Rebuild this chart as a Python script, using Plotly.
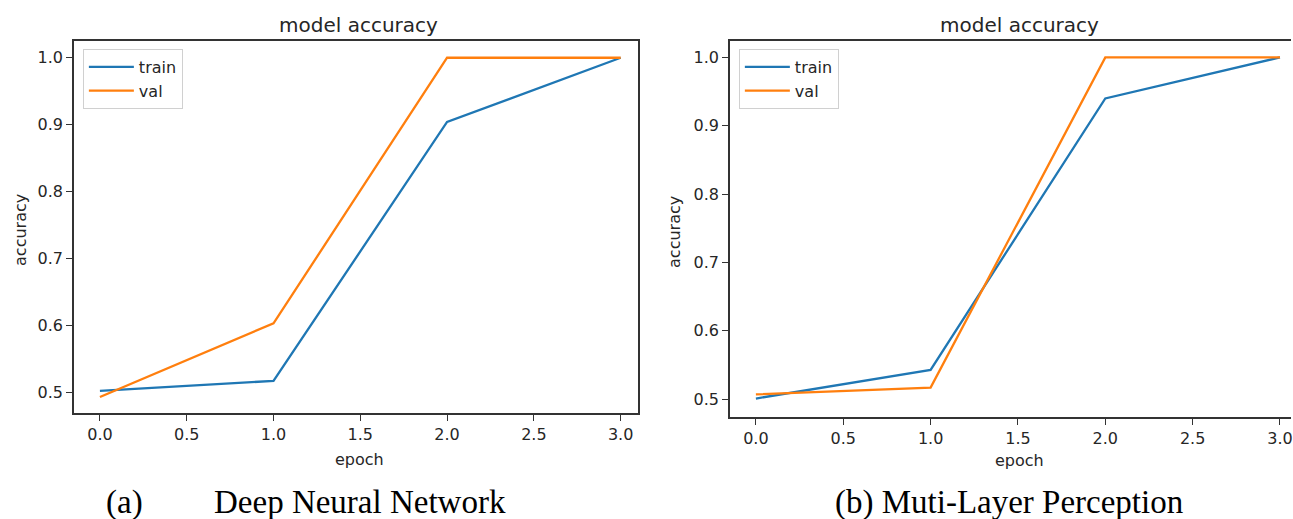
import plotly.graph_objects as go

W, H = 1293, 519

epochs = [0, 1, 2, 3]
dnn_train = [0.502, 0.517, 0.904, 1.0]
dnn_val = [0.493, 0.603, 1.0, 1.0]
mlp_train = [0.501, 0.543, 0.940, 1.0]
mlp_val = [0.507, 0.517, 1.0, 1.0]

x_ticks = [0.0, 0.5, 1.0, 1.5, 2.0, 2.5, 3.0]
y_ticks = [0.5, 0.6, 0.7, 0.8, 0.9, 1.0]
panel_title = "model accuracy"
x_label = "epoch"
y_label = "accuracy"
caption_a_tag = "(a)"
caption_a = "Deep Neural Network"
caption_b = "(b) Muti-Layer Perception"

BLUE = "#1f77b4"
ORANGE = "#ff7f0e"
INK = "#262626"
SPINE = "#333333"


def px(x):
    return x / W


def py(y):
    return 1 - y / H


fig = go.Figure()

fig.add_trace(go.Scatter(x=epochs, y=dnn_train, mode="lines", name="train",
                         line=dict(color=BLUE, width=2.3), xaxis="x", yaxis="y", legend="legend"))
fig.add_trace(go.Scatter(x=epochs, y=dnn_val, mode="lines", name="val",
                         line=dict(color=ORANGE, width=2.3), xaxis="x", yaxis="y", legend="legend"))
fig.add_trace(go.Scatter(x=epochs, y=mlp_train, mode="lines", name="train",
                         line=dict(color=BLUE, width=2.3), xaxis="x2", yaxis="y2", legend="legend2"))
fig.add_trace(go.Scatter(x=epochs, y=mlp_val, mode="lines", name="val",
                         line=dict(color=ORANGE, width=2.3), xaxis="x2", yaxis="y2", legend="legend2"))

tickfont = dict(family="DejaVu Sans", size=16, color=INK)
common_axis = dict(showgrid=False, zeroline=False, showline=True, linecolor=SPINE, linewidth=1.5,
                   ticks="outside", ticklen=6, tickwidth=1.3, tickcolor=SPINE, tickfont=tickfont,
                   tickformat=".1f")

legend_common = dict(bgcolor="rgba(255,255,255,0.85)", bordercolor="#d0d0d0", borderwidth=1,
                     font=dict(family="DejaVu Sans", size=16, color=INK), xanchor="left", yanchor="top",
                     itemwidth=45, tracegroupgap=0)

fig.update_layout(
    width=W, height=H,
    margin=dict(l=0, r=0, t=0, b=0),
    paper_bgcolor="white", plot_bgcolor="white",
    xaxis=dict(domain=[px(74), px(639)], range=[-0.15, 3.1], tickvals=x_ticks, mirror=True,
               anchor="y", **common_axis),
    yaxis=dict(domain=[py(413), py(41)], range=[0.469, 1.025], tickvals=y_ticks, mirror=True,
               anchor="x", **common_axis),
    xaxis2=dict(domain=[px(731), 1.0], range=[-0.149, 3.063], tickvals=x_ticks, mirror=True,
                anchor="y2", ticklabeloverflow="allow", **common_axis),
    yaxis2=dict(domain=[py(417), py(41)], range=[0.474, 1.024], tickvals=y_ticks, mirror=False,
                anchor="x2", **common_axis),
    legend=dict(x=px(83), y=py(49), **legend_common),
    legend2=dict(x=px(740), y=py(49), **legend_common),
    showlegend=True,
)

ann_font = dict(family="DejaVu Sans", size=16, color=INK)
title_font = dict(family="DejaVu Sans", size=20, color=INK)
cap_font = dict(family="Liberation Serif", size=33, color="black")

annotations = [
    dict(x=px(359), y=py(25), text=panel_title, font=title_font),
    dict(x=px(1021), y=py(25), text=panel_title, font=title_font),
    dict(x=px(360), y=py(459), text=x_label, font=ann_font),
    dict(x=px(1021), y=py(460), text=x_label, font=ann_font),
    dict(x=px(20), y=py(230), text=y_label, font=ann_font, textangle=-90),
    dict(x=px(675), y=py(232), text=y_label, font=ann_font, textangle=-90),
    dict(x=px(125), y=py(502), text=caption_a_tag, font=cap_font),
    dict(x=px(361), y=py(502), text=caption_a, font=cap_font),
    dict(x=px(1011), y=py(502), text=caption_b, font=cap_font),
]
for a in annotations:
    a.update(xref="paper", yref="paper", showarrow=False, xanchor="center", yanchor="middle")
fig.update_layout(annotations=annotations)

fig.write_html("out.html", config={"displayModeBar": False})

# remove the browser's default page margin so the figure sits at the window's corner
with open("out.html", "r", encoding="utf-8") as f:
    html = f.read()
html = html.replace("<head>", "<head><style>html,body{margin:0;padding:0;overflow:hidden;}</style>", 1)
with open("out.html", "w", encoding="utf-8") as f:
    f.write(html)
